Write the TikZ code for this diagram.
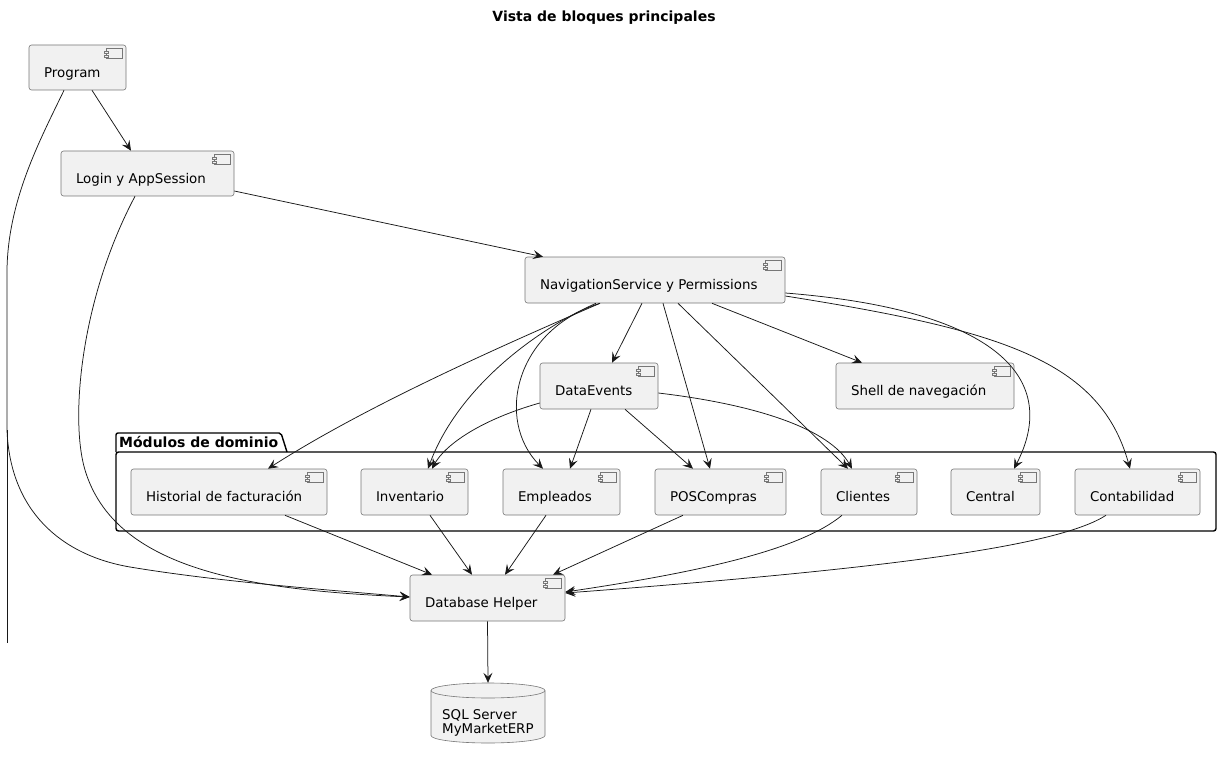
\documentclass[tikz,border=0pt]{standalone}
\usepackage{fontspec}
\setmainfont{DejaVu Sans}
\usetikzlibrary{arrows.meta}
\definecolor{boxfill}{HTML}{F1F1F1}
\definecolor{edgec}{HTML}{181818}
\definecolor{boxline}{HTML}{777777}
\tikzset{
  compbox/.style={rectangle, rounded corners=2.5pt, draw=boxline, line width=0.6pt, fill=boxfill,
    inner xsep=15pt, inner ysep=0pt, text height=19.6pt, text depth=0pt,
    font=\fontsize{13.4}{16}\selectfont},
  iconst/.style={draw=boxline, line width=0.5pt, fill=boxfill},
  arr/.style={-{Stealth[length=10pt,width=9pt,inset=4pt]}, line width=0.75pt, draw=edgec},
  plainedge/.style={line width=0.75pt, draw=edgec},
  pkgline/.style={line width=1.4pt, draw=black},
  lbl/.style={font=\fontsize{13.4}{16}\selectfont, inner sep=0pt},
  boldlbl/.style={font=\fontsize{14}{16}\selectfont\bfseries, inner sep=0pt},
}
\newcommand\mycomp[6]{%
  \node[compbox, minimum width={(#4-#2)*1pt}, minimum height={(#5-#3)*1pt}] (#1)
    at ({(#2+#4)/2},{(#3+#5)/2}) {\makebox[\dimexpr #4pt-#2pt-30pt\relax][l]{#6}};
  \draw[iconst] ([xshift=-20pt,yshift=-4pt]#1.north east) rectangle ++(16,10);
  \draw[iconst] ([xshift=-22pt,yshift=-6.5pt]#1.north east) rectangle ++(4,2);
  \draw[iconst] ([xshift=-22pt,yshift=-10.5pt]#1.north east) rectangle ++(4,2);
}
\begin{document}
\begin{tikzpicture}[x=1pt,y=-1pt]
\useasboundingbox (0,0) rectangle (1222,759);
\fill[white] (0,0) rectangle (1222,759);

\node[boldlbl, anchor=base] (title) at (604,22) {Vista de bloques principales};

% package
\draw[pkgline, rounded corners=2pt] (116,452) -- (116,433) -- (281,433) -- (287,452);
\draw[pkgline, rounded corners=2.5pt] (116,452) rectangle (1216,531);
\node[boldlbl, anchor=base west] (pkglabel) at (119,447) {Módulos de dominio};

\mycomp{prog}{29}{45}{126}{90}{Program}
\mycomp{login}{61}{151}{234}{196}{Login y AppSession}
\mycomp{nav}{525}{257}{785}{303}{NavigationService y Permissions}
\mycomp{de}{540}{363}{658}{409}{DataEvents}
\mycomp{shell}{836}{363}{1014}{409}{Shell de navegación}
\mycomp{hist}{131}{469}{327}{515}{Historial de facturación}
\mycomp{inv}{361}{469}{468}{515}{Inventario}
\mycomp{emp}{503}{469}{620}{515}{Empleados}
\mycomp{pos}{655}{469}{786}{515}{POSCompras}
\mycomp{cli}{821}{469}{917}{515}{Clientes}
\mycomp{cen}{951}{469}{1040}{515}{Central}
\mycomp{con}{1075}{469}{1200}{515}{Contabilidad}
\mycomp{dbh}{410}{575}{565}{621}{Database Helper}

% database cylinder
\node[minimum width=114pt, minimum height=60pt, inner sep=0pt] (sql) at (488,713) {};
\filldraw[iconst, line width=0.6pt] (431,690.5) -- (431,735.5)
  arc[start angle=180, end angle=360, x radius=57pt, y radius=7.5pt] -- (545,690.5)
  arc[start angle=0, end angle=180, x radius=57pt, y radius=7.5pt] -- cycle;
\draw[iconst, line width=0.6pt, fill=none] (431,690.5) arc[start angle=180, end angle=360, x radius=57pt, y radius=7.5pt];
\node[lbl, anchor=base west] (sql1) at (442,719) {SQL Server};
\node[lbl, anchor=base west] (sql2) at (442,733.5) {MyMarketERP};

% edges
\draw[arr] (92,0 |- prog.south) -- (131,0 |- login.north);
\draw[arr] (64,0 |- prog.south) .. controls (40,140) and (8,200) .. (7,270) -- (7,430)
  .. controls (10,510) and (60,555) .. (130,567) .. controls (220,582) and (330,590) .. (dbh.west |- 0,597);
\draw[plainedge] (7,430) -- (7,643);
\draw[arr] (login.east |- 0,191) -- (543,0 |- nav.north);
\draw[arr] (135,0 |- login.south) .. controls (80,300) and (70,420) .. (85,470)
  .. controls (115,570) and (250,590) .. (dbh.west |- 0,597);

\draw[arr] (642,0 |- nav.south) -- (612,0 |- de.north);
\draw[arr] (600,0 |- nav.south) .. controls (480,355) and (360,410) .. (268,0 |- hist.north);
\draw[arr] (596,0 |- nav.south) .. controls (525,335) and (455,395) .. (428,0 |- inv.north);
\draw[arr] (600,0 |- nav.south) .. controls (515,330) and (495,420) .. (543,0 |- emp.north);
\draw[arr] (663,0 |- nav.south) -- (710,0 |- pos.north);
\draw[arr] (678,0 |- nav.south) -- (848,0 |- cli.north);
\draw[arr] (712,0 |- nav.south) -- (862,0 |- shell.north);
\draw[arr] (nav.east |- 0,293) .. controls (1000,310) and (1060,380) .. (1014,0 |- cen.north);
\draw[arr] (nav.east |- 0,296) .. controls (1000,330) and (1100,360) .. (1130,0 |- con.north);

\draw[arr] (de.west |- 0,403) .. controls (480,420) and (445,445) .. (432,0 |- inv.north);
\draw[arr] (591,0 |- de.south) -- (570,0 |- emp.north);
\draw[arr] (625,0 |- de.south) -- (693,0 |- pos.north);
\draw[arr] (de.east |- 0,393) .. controls (760,405) and (830,430) .. (852,0 |- cli.north);

\draw[arr] (285,0 |- hist.south) -- (432,0 |- dbh.north);
\draw[arr] (430,0 |- inv.south) -- (472,0 |- dbh.north);
\draw[arr] (546,0 |- emp.south) -- (505,0 |- dbh.north);
\draw[arr] (683,0 |- pos.south) -- (553,0 |- dbh.north);
\draw[arr] (842,0 |- cli.south) .. controls (800,550) and (700,572) .. (dbh.east |- 0,592);
\draw[arr] (1106,0 |- con.south) .. controls (1060,545) and (900,568) .. (dbh.east |- 0,593);
\draw[arr] (dbh.south) -- (sql.north);
\end{tikzpicture}
\end{document}
